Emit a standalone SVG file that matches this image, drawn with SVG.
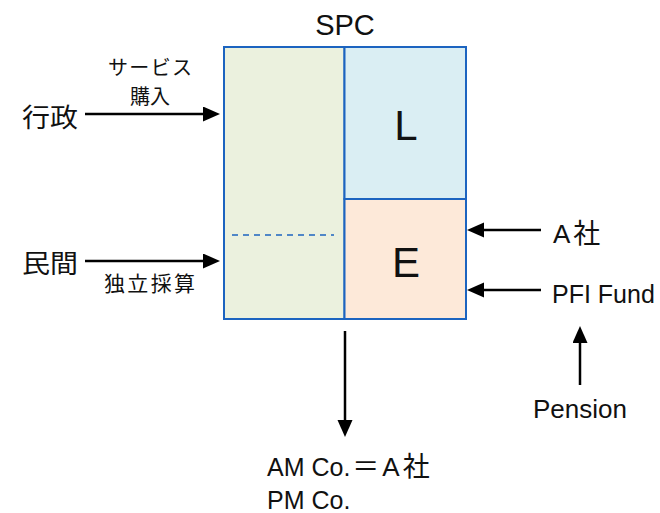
<svg xmlns="http://www.w3.org/2000/svg" width="660" height="513" viewBox="0 0 660 513">
<defs>
<marker id="ah" markerUnits="userSpaceOnUse" markerWidth="18" markerHeight="16" refX="0" refY="7.5" orient="auto">
<path d="M0,0 L17,7.5 L0,15 z" fill="#000"/>
</marker>
<style>
.box{stroke:#1C64C0;stroke-width:2}
.lat{font-family:"Liberation Sans","Noto Sans CJK JP",sans-serif;fill:#111}
.jp{font-family:"Noto Sans CJK JP",sans-serif;fill:#111}
.arr{stroke:#000;stroke-width:2.5;fill:none;marker-end:url(#ah)}
</style>
</defs>
<rect width="660" height="513" fill="#fff"/>
<g id="spc">
<text class="lat" x="345" y="35" font-size="29" text-anchor="middle">SPC</text>
<rect id="spc-asset" class="box" x="224" y="47" width="120.5" height="272" fill="#EBF1DE"/>
<line x1="232" y1="235" x2="334" y2="235" stroke="#1C64C0" stroke-width="1.6" stroke-dasharray="6,5"/>
</g>
<g id="node-L">
<rect class="box" x="344.5" y="47" width="121.5" height="152" fill="#DAEEF3"/>
<text class="lat" x="406" y="140" font-size="42" text-anchor="middle">L</text>
</g>
<g id="node-E">
<rect class="box" x="344.5" y="199" width="121.5" height="120" fill="#FDE9D9"/>
<text class="lat" x="406" y="277" font-size="42" text-anchor="middle">E</text>
</g>
<g id="gyosei">
<text class="jp" x="22" y="127" font-size="26" textLength="56" lengthAdjust="spacingAndGlyphs">行政</text>
<text class="jp" x="108" y="75" font-size="20" textLength="84" lengthAdjust="spacing">サービス</text>
<text class="jp" x="150" y="104" font-size="20" text-anchor="middle">購入</text>
</g>
<g id="minkan">
<text class="jp" x="22" y="273" font-size="26" textLength="56" lengthAdjust="spacingAndGlyphs">民間</text>
<text class="jp" x="104" y="291" font-size="21" textLength="91" lengthAdjust="spacing">独立採算</text>
</g>
<g id="a-sha">
<text class="lat" x="553" y="243" font-size="26">A<tspan font-size="27" dx="3">社</tspan></text>
</g>
<g id="pfi-fund">
<text class="lat" x="552" y="303" font-size="25">PFI Fund</text>
</g>
<g id="pension">
<text class="lat" x="533" y="418" font-size="26">Pension</text>
</g>
<g id="am-pm">
<text class="lat" x="267" y="476" font-size="25">AM Co.<tspan font-size="27" dx="2">＝</tspan><tspan dx="3" font-size="26">A</tspan><tspan font-size="27" dx="3">社</tspan></text>
<text class="lat" x="267" y="509" font-size="25">PM Co.</text>
</g>
<g id="connectors">
<line class="arr" x1="85" y1="114" x2="203" y2="114"/>
<line class="arr" x1="85" y1="261" x2="203" y2="261"/>
<line class="arr" x1="541" y1="230" x2="484" y2="230"/>
<line class="arr" x1="541" y1="290" x2="484" y2="290"/>
<line class="arr" x1="345" y1="331" x2="345" y2="420"/>
<line class="arr" x1="580" y1="385" x2="580" y2="343"/>
</g>
</svg>
